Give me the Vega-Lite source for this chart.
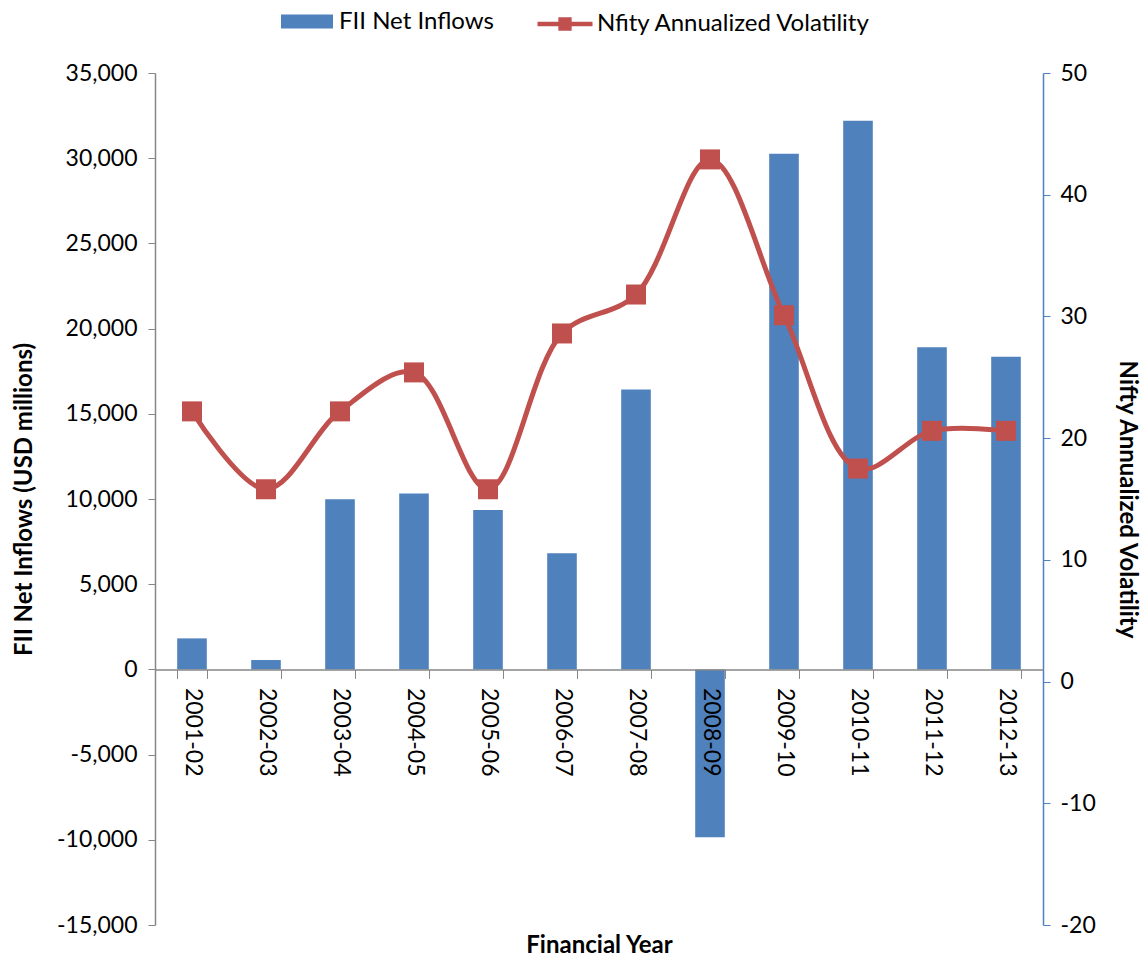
{
  "$schema": "https://vega.github.io/schema/vega-lite/v6.json",
  "width": 888,
  "height": 852,
  "autosize": {"type": "none"},
  "padding": {"left": 155, "top": 73, "right": 103, "bottom": 34},
  "background": "white",
  "config": {
    "font": "Lato",
    "view": {"stroke": null},
    "axis": {"labelFont": "Lato", "labelFontSize": 23, "labelColor": "#000000", "titleFont": "Lato", "titleFontSize": 24, "titleFontWeight": "bold", "titleColor": "#000000", "grid": false},
    "legend": {"labelFont": "Lato", "labelFontSize": 24, "labelColor": "#000000", "labelLimit": 500}
  },
  "data": {
    "values": [
      {"year": "2001-02", "fii": 1820, "vol": 22.2},
      {"year": "2002-03", "fii": 550, "vol": 15.8},
      {"year": "2003-04", "fii": 9980, "vol": 22.2},
      {"year": "2004-05", "fii": 10330, "vol": 25.4},
      {"year": "2005-06", "fii": 9350, "vol": 15.8},
      {"year": "2006-07", "fii": 6810, "vol": 28.6},
      {"year": "2007-08", "fii": 16430, "vol": 31.8},
      {"year": "2008-09", "fii": -9850, "vol": 42.9},
      {"year": "2009-10", "fii": 30260, "vol": 30.1},
      {"year": "2010-11", "fii": 32200, "vol": 17.5},
      {"year": "2011-12", "fii": 18900, "vol": 20.6},
      {"year": "2012-13", "fii": 18350, "vol": 20.6}
    ]
  },
  "encoding": {
    "x": {
      "field": "year",
      "type": "ordinal",
      "sort": null,
      "scale": {"paddingInner": 0.6, "paddingOuter": 0.3},
      "axis": {
        "offset": -255.6,
        "zindex": 1,
        "labelAngle": 90,
        "labelAlign": "left",
        "labelBaseline": "middle",
        "labelPadding": 9,
        "tickBand": "extent",
        "tickSize": 9,
        "tickColor": "#868686",
        "domainColor": "#868686",
        "domainWidth": 1.5,
        "title": "Financial Year",
        "titleY": 276,
        "titleBaseline": "middle"
      }
    }
  },
  "layer": [
    {
      "mark": {"type": "bar", "opacity": 1},
      "encoding": {
        "y": {
          "field": "fii",
          "type": "quantitative",
          "scale": {"domain": [-15000, 35000], "nice": false, "zero": false},
          "axis": {
            "orient": "left",
            "values": [-15000, -10000, -5000, 0, 5000, 10000, 15000, 20000, 25000, 30000, 35000],
            "labelExpr": "replace(format(datum.value, ',.0f'), '\u2212', '-')",
            "domainColor": "#868686",
            "tickColor": "#868686",
            "domainWidth": 1.5,
            "tickSize": 7,
            "labelPadding": 11,
            "titlePadding": 20,
            "title": "FII Net Inflows (USD millions)"
          }
        },
        "fill": {
          "datum": "FII Net Inflows",
          "scale": {"range": ["#4F81BD"]},
          "legend": {
            "orient": "none",
            "legendX": 126,
            "legendY": -77.5,
            "title": null,
            "symbolType": "M-1,-0.27H1V0.27H-1Z",
            "symbolSize": 2704,
            "symbolStrokeWidth": 0,
            "labelOffset": 6
          }
        }
      }
    },
    {
      "layer": [
        {
          "mark": {"type": "line", "interpolate": "catmull-rom", "strokeWidth": 5, "color": "#C0504D"},
          "encoding": {
            "y": {
              "field": "vol",
              "type": "quantitative",
              "scale": {"domain": [-20, 50], "nice": false, "zero": false},
              "axis": {
                "orient": "right",
                "values": [-20, -10, 0, 10, 20, 30, 40, 50],
                "labelExpr": "replace(format(datum.value, 'd'), '\u2212', '-')",
                "domainColor": "#4F81BD",
                "tickColor": "#4F81BD",
                "domainWidth": 1.5,
                "tickSize": 7,
                "labelPadding": 10,
                "title": "Nifty Annualized Volatility",
                "titlePadding": 19
              }
            },
            "stroke": {
              "datum": "Nfity Annualized Volatility",
              "scale": {"range": ["#C0504D"]},
              "legend": {
                "orient": "none",
                "legendX": 380,
                "legendY": -79,
                "title": null,
                "symbolType": "M-1,0H1M-0.16,-0.16H0.16V0.16H-0.16Z",
                "symbolSize": 3025,
                "symbolStrokeWidth": 4.5,
                "symbolFillColor": "#C0504D",
                "labelOffset": 2,
                "encode": {"symbols": {"update": {"fill": {"value": "#C0504D"}, "stroke": {"value": "#C0504D"}, "opacity": {"value": 1}}}}
              }
            }
          }
        },
        {
          "mark": {"type": "square", "size": 400, "filled": true, "color": "#C0504D", "opacity": 1},
          "encoding": {
            "y": {"field": "vol", "type": "quantitative"}
          }
        }
      ]
    }
  ],
  "resolve": {"scale": {"y": "independent"}}
}
